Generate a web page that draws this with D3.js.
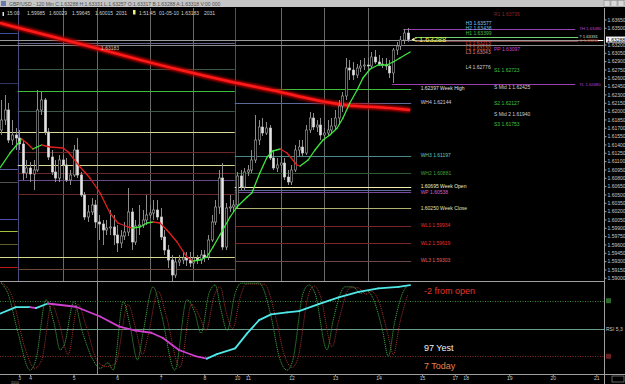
<!DOCTYPE html>
<html>
<head>
<meta charset="utf-8">
<script src="https://cdn.jsdelivr.net/npm/d3@7"></script>
<style>
  body { margin: 0; background: #000; }
  svg { display: block; font-family: "Liberation Sans", Arial, sans-serif; }
</style>
</head>
<body>
<svg id="chart" width="625" height="384"></svg>
<script>
// GBP/USD 120 min, one bar per slot, slot 0 = left edge
var opens = [1.61660,1.61840,1.62020,1.61480,1.61570,1.61516,1.61408,1.60886,1.60976,1.60868,
  1.60940,1.62020,1.62200,1.61624,1.61174,1.60904,1.60796,1.61120,1.61030,1.60760,
  1.60850,1.61300,1.60850,1.60490,1.60094,1.60184,1.60310,1.60004,1.59968,1.59860,
  1.59896,1.59914,1.59770,1.59626,1.59752,1.59824,1.60184,1.59644,1.59932,1.59950,
  1.60040,1.60130,1.60166,1.60220,1.60094,1.59734,1.59500,1.59320,1.59050,1.59284,
  1.59320,1.59356,1.59320,1.59266,1.59356,1.59320,1.59410,1.59374,1.59680,1.60004,
  1.60274,1.60796,1.59554,1.60256,1.60274,1.60310,1.60832,1.60634,1.60904,1.60940,
  1.61120,1.61480,1.61714,1.61606,1.61696,1.61156,1.60976,1.61030,1.61066,1.60814,
  1.60724,1.60940,1.61300,1.61354,1.61246,1.61660,1.61876,1.61714,1.61750,1.61570,
  1.61606,1.61660,1.61732,1.61876,1.62092,1.62272,1.62776,1.62740,1.62650,1.62776,
  1.62812,1.62830,1.62812,1.62974,1.62884,1.62848,1.62830,1.62812,1.62686,1.63100,
  1.63172,1.63280,1.63406];
var highs = [1.62200,1.62290,1.62146,1.61840,1.61696,1.61660,1.61480,1.61120,1.61084,1.61120,
  1.62380,1.62344,1.62236,1.61696,1.61300,1.61120,1.61210,1.61210,1.61156,1.60940,
  1.61390,1.61516,1.60904,1.60544,1.60310,1.60436,1.60400,1.60130,1.60040,1.60040,
  1.60220,1.60130,1.59950,1.59860,1.60004,1.60616,1.60256,1.60040,1.60310,1.60220,
  1.60490,1.60310,1.60400,1.60400,1.60256,1.59860,1.59590,1.59410,1.59356,1.59410,
  1.59464,1.59464,1.59464,1.59464,1.59410,1.59500,1.59500,1.59770,1.60130,1.60400,
  1.60940,1.61066,1.60346,1.60490,1.60400,1.60904,1.60940,1.60976,1.61030,1.61300,
  1.61930,1.61840,1.61876,1.61804,1.61750,1.61300,1.61156,1.61210,1.61156,1.60940,
  1.61030,1.61390,1.61480,1.61480,1.61750,1.61984,1.61966,1.61840,1.61876,1.61696,
  1.61840,1.61876,1.62020,1.62200,1.62344,1.62956,1.62920,1.62884,1.62848,1.62920,
  1.62956,1.62956,1.63064,1.63100,1.63010,1.62956,1.62956,1.62920,1.63136,1.63244,
  1.63352,1.63478,1.63496];
var lows = [1.61570,1.61750,1.61426,1.61390,1.61300,1.61300,1.60760,1.60796,1.60724,1.60580,
  1.60904,1.61930,1.61570,1.61120,1.60850,1.60724,1.60724,1.60796,1.60724,1.60670,
  1.60814,1.60796,1.60454,1.60040,1.60004,1.60130,1.59896,1.59680,1.59590,1.59770,
  1.59770,1.59590,1.59464,1.59536,1.59680,1.59752,1.59500,1.59590,1.59770,1.59896,
  1.59950,1.60076,1.60040,1.60040,1.59680,1.59410,1.59176,1.58942,1.58996,1.59212,
  1.59248,1.59212,1.59194,1.59176,1.59248,1.59248,1.59284,1.59320,1.59644,1.59950,
  1.60148,1.59500,1.59500,1.60184,1.60184,1.60256,1.60580,1.60580,1.60832,1.60886,
  1.61066,1.61390,1.61552,1.61570,1.61120,1.60940,1.60904,1.60904,1.60760,1.60670,
  1.60670,1.60904,1.61192,1.61192,1.61210,1.61606,1.61660,1.61624,1.61480,1.61480,
  1.61552,1.61588,1.61660,1.61750,1.61984,1.62200,1.62560,1.62560,1.62596,1.62704,
  1.62740,1.62740,1.62776,1.62848,1.62812,1.62776,1.62740,1.62596,1.62506,1.63010,
  1.63100,1.63208,1.63244];
var closes = [1.61840,1.62020,1.61480,1.61570,1.61516,1.61408,1.60886,1.60976,1.60868,1.60940,
  1.62020,1.62200,1.61624,1.61174,1.60904,1.60796,1.61120,1.61030,1.60760,1.60850,
  1.61300,1.60850,1.60490,1.60094,1.60184,1.60310,1.60004,1.59968,1.59860,1.59896,
  1.59914,1.59770,1.59626,1.59752,1.59824,1.60184,1.59644,1.59932,1.59950,1.60040,
  1.60130,1.60166,1.60220,1.60094,1.59734,1.59500,1.59320,1.59050,1.59284,1.59320,
  1.59356,1.59320,1.59266,1.59356,1.59320,1.59410,1.59374,1.59680,1.60004,1.60274,
  1.60796,1.59554,1.60256,1.60274,1.60310,1.60832,1.60634,1.60904,1.60940,1.61120,
  1.61480,1.61714,1.61606,1.61696,1.61156,1.60976,1.61030,1.61066,1.60814,1.60724,
  1.60940,1.61300,1.61354,1.61246,1.61660,1.61876,1.61714,1.61750,1.61570,1.61606,
  1.61660,1.61732,1.61876,1.62092,1.62272,1.62776,1.62740,1.62650,1.62776,1.62812,
  1.62830,1.62812,1.62974,1.62884,1.62848,1.62830,1.62812,1.62686,1.63100,1.63172,
  1.63280,1.63406,1.63288];

// fast moving average (green up / red down)
var maSlots = [-0.3,2.5,5.7,7.1,8.8,9.9,11.2,13.5,17.1,18.5,21.8,24.5,27.3,30.0,32.2,35.0,36.1,38.3,40.2,41.9,
  43.8,45.7,48.5,51.2,52.9,54.8,56.7,58.4,60.3,63.1,65.0,67.8,69.1,71.3,73.3,74.9,76.9,78.8,81.5,82.4,
  84.6,86.5,88.7,90.6,92.6,94.2,96.1,98.1,99.7,101.7,103.9,106.3,108.0,109.9,112.7];
var maPrices = [1.60976,1.61246,1.61498,1.61426,1.61318,1.61354,1.61390,1.61354,1.61336,1.61264,
  1.60994,1.60796,1.60526,1.60166,1.59986,1.59914,1.59896,1.59914,1.59986,1.60004,
  1.59986,1.59860,1.59644,1.59374,1.59302,1.59320,1.59374,1.59554,1.59770,1.60094,
  1.60274,1.60454,1.60526,1.60886,1.61174,1.61282,1.61318,1.61246,1.61030,1.61012,
  1.61120,1.61300,1.61480,1.61570,1.61696,1.61876,1.62146,1.62380,1.62596,1.62758,
  1.62830,1.62830,1.62884,1.62956,1.63064];

// slow moving average (thick red)
var slowSlots = [-0.3,13.5,27.3,38.3,49.3,63.1,74.9,86.0,95.3,104.4,112.7];
var slowPrices = [1.63586,1.63352,1.63118,1.62920,1.62740,1.62524,1.62380,1.62200,1.62092,1.62074,1.62020];

// levels
var prevWeekLevels = [1.63406,1.62511,1.61629,1.60958,1.60729,1.60058,1.59842,1.59608,1.59379,1.59194];
var weekOneLevels = [1.63221,1.62753,1.62362,1.62002,1.61629,1.61259,1.61035,1.60886,1.60760,1.60508,1.59379,1.59158];
var weekTwoNames = ['WH4 1.62144','WH3 1.61197','WH2 1.60881','1.60695 Week Open','','WP 1.60538','1.60250 Week Close','WL1 1.59934','WL2 1.59619','WL3 1.59303'];
var weekTwoLevels = [1.62144,1.61197,1.60881,1.60639,1.60580,1.60538,1.60250,1.59934,1.59619,1.59303];
var weekHigh = 1.62397;
var bidPrice = 1.63288;
var userLine = 1.63183;
var dayLineNames = ['YH 1.63480','? 1.63331','C 1.63260','YL 1.62480'];
var dayLineLevels = [1.63480,1.63331,1.63260,1.62480];
var pivotNamesA = ['H3 1.63577','H2 1.63438','H1 1.63399','L1 1.63213','L2 1.63130','L3 1.63043','L4 1.62776'];
var pivotLevelsA = [1.63577,1.63488,1.63399,1.63213,1.63130,1.63043,1.62776];
var pivotNamesB = ['R1 1.63736','PP 1.63097','S1 1.62723','S Mid 1  1.62425','S2 1.62127','S Mid 2  1.61940','S3 1.61753'];
var pivotLevelsB = [1.63736,1.63097,1.62723,1.62425,1.62127,1.61940,1.61753];

// oscillators (slot, value)
var stochK = [[0,99],[1.9,88],[4.7,45],[8,5],[9.6,16],[12.4,81],[14.6,56],[16.3,27],[17.4,32],[20.1,79],
  [22.3,48],[25.1,18],[27.3,7],[29.5,13],[30.9,5],[33.7,79],[35.4,56],[37.6,16],[39.1,45],[41.9,95],
  [44.1,67],[47.9,5],[51.2,81],[53.4,67],[55.1,45],[57.3,88],[59,97],[60.6,70],[62.3,48],[64.5,88],
  [66.1,99],[71.1,99],[74.4,63],[76.6,20],[78.8,5],[80.4,16],[83.2,88],[84.8,97],[86.5,88],[89.8,27],
  [91.5,59],[94.8,95],[96.9,95],[99.1,88],[100.7,91],[102.3,84],[105.1,48],[106.7,20],[108.4,56],[110.6,88],[112.2,97]];
var stochD = [[0,100],[3,85],[6.5,30],[9.3,7],[11.2,16],[14,76],[16,56],[18.5,22],[21.2,76],[23.5,52],
  [26.5,15],[29,9],[31.5,12],[35,76],[37,52],[39,22],[40.5,42],[43.3,90],[45.5,64],[49.3,8],
  [52.5,76],[54.8,62],[56.5,48],[58.7,85],[60.4,95],[62,68],[63.8,50],[66,85],[67.5,98],[72.5,98],
  [75.8,60],[78,22],[80.2,8],[81.8,18],[84.6,85],[86.2,96],[88,85],[91.2,30],[93,58],[96.2,94],
  [98.3,94],[100.5,87],[102.1,90],[103.8,82],[106.5,45],[108.1,22],[109.8,55],[112,86]];
var rsiSlots = [-0.3,4.1,8.0,9.6,12.9,20.6,27.3,32.6,37.1,41.4,44.6,49.0,53.5,56.7,59.5,64.5,67.8,71.1,74.4,78.8,
  82.1,87.5,93.0,98.5,104.0,109.5,112.7];
var rsiValues = [66,73,73,72,77,73.5,63,52,47.6,45.4,39.7,26.8,20.3,17.4,22.4,28.6,44.8,59,65.3,67.4,
  68.8,76.4,83.6,89.6,93.3,95,96.9];
var stochLevels = [80, 50, 20];

// ticks (1.63350 sits under the bid box)
var priceTicks = [1.63650,1.63500,1.63200,1.63050,1.62900,1.62750,1.62600,1.62450,1.62300,
  1.62150,1.62000,1.61850,1.61700,1.61550,1.61400,1.61250,1.61100,1.60950,1.60800,1.60650,1.60500,
  1.60350,1.60200,1.60050,1.59900,1.59750,1.59600,1.59450,1.59300,1.59150,1.59000];
var dayLabels = ['3','4','5','6','7','8','10','11','12','13','14','15','17','18','19','20','21'];
var daySlots = [5,8,20,32,44,56,65,68,80,92,104,116,125,128,140,152,164];
var sepSlots = [4.6, 64.4];
var vLineSlots = [17, 26.5, 41, 53, 77, 89, 101];
var infoTexts = ['15:00','1.59985','1.60029','1.59645','1.60015','2031','1:51:45','01-05-10','1.63183','2031'];
var infoX = [7,27,49,72,95,116,139,159,181,204];

// ---- scales ----
var svg = d3.select('#chart');
var x = d3.scaleLinear().domain([0, 166]).range([1, 603.6]);
var y = d3.scaleLinear().domain([1.64, 1.5896]).range([0, 280]);
var yInd = d3.scaleLinear().domain([0, 100]).range([374.8, 282.2]);
var px = function(v) { return Math.round(v) + 0.5; };

svg.append('rect').attr('width', 625).attr('height', 384).attr('fill', '#000');

var defs = svg.append('defs');
defs.append('clipPath').attr('id', 'clipMain').append('rect')
  .attr('x', 0).attr('y', 8).attr('width', 604).attr('height', 273);
defs.append('clipPath').attr('id', 'clipInd').append('rect')
  .attr('x', 0).attr('y', 282).attr('width', 604).attr('height', 92);
var glow = defs.append('filter').attr('id', 'glow').attr('x', '-5%').attr('y', '-50%').attr('width', '110%').attr('height', '200%');
glow.append('feGaussianBlur').attr('stdDeviation', 1);

var main = svg.append('g').attr('clip-path', 'url(#clipMain)');
var ind = svg.append('g').attr('clip-path', 'url(#clipInd)');

// vertical lines
main.selectAll(null).data(vLineSlots).enter().append('line')
  .attr('x1', d => px(x(d))).attr('x2', d => px(x(d)))
  .attr('y1', 8).attr('y2', 281).attr('stroke', '#6a6a6a');
ind.append('line').attr('x1', px(x(26.5))).attr('x2', px(x(26.5)))
  .attr('y1', 282).attr('y2', 374).attr('stroke', '#8a8a8a');
main.selectAll(null).data(sepSlots).enter().append('line')
  .attr('x1', d => px(x(d))).attr('x2', d => px(x(d)))
  .attr('y1', 8).attr('y2', 281).attr('stroke', '#4c4c7c');

// horizontal levels
function levels(prices, s0, s1, colors, w) {
  main.selectAll(null).data(prices).enter().append('line')
    .attr('x1', x(s0)).attr('x2', x(s1))
    .attr('y1', d => px(y(d))).attr('y2', d => px(y(d)))
    .attr('stroke', (d, i) => colors[i]).attr('stroke-width', w || 1);
}
levels(prevWeekLevels, -1, 4.6,
  ['#3c4c9c','#33336a','#d8d890','#5a5aa0','#505050','#5050b0','#a0c040','#606030','#d8d890','#c01818']);
levels(weekOneLevels, 4.6, 64.4,
  ['#66668a','#3c5a4a','#3cc03c','#3c5a4a','#d8d890','#6a2a2a','#d8d890','#6a2a2a','#6a4a8a','#6a2a2a','#d8d890','#6a4a3a']);
levels(weekTwoLevels, 64.4, 113,
  ['#5a6a9a','#4a8a8a','#2f5a2f','#f0f0b0','#5a6a9a','#7a4a9a','#b0b070','#7a2626','#7a2626','#6a4848']);
levels([weekHigh], 74.7, 113, ['#3cc03c']);
levels([bidPrice, userLine], -1, 166, ['#9a9a9a', '#8a8a8a']);
main.append('line').attr('x1', x(110.8)).attr('x2', x(158.2))
  .attr('y1', px(y(dayLineLevels[0]))).attr('y2', px(y(dayLineLevels[0]))).attr('stroke', '#9a40b0');
main.append('line').attr('x1', x(114)).attr('x2', x(159))
  .attr('y1', px(y(dayLineLevels[1]))).attr('y2', px(y(dayLineLevels[1]))).attr('stroke', '#70d070');
main.append('line').attr('x1', x(114)).attr('x2', x(159))
  .attr('y1', px(y(dayLineLevels[2]))).attr('y2', px(y(dayLineLevels[2]))).attr('stroke', '#804040');
main.append('line').attr('x1', x(107.7)).attr('x2', x(158.2))
  .attr('y1', px(y(dayLineLevels[3]))).attr('y2', px(y(dayLineLevels[3]))).attr('stroke', '#9a40b0');

// slow MA
var slowLine = d3.line().x((d, i) => x(slowSlots[i])).y(d => y(d)).curve(d3.curveBasis);
main.append('path').datum(slowPrices).attr('d', slowLine)
  .attr('fill', 'none').attr('stroke', '#b00000').attr('stroke-width', 5.5).attr('filter', 'url(#glow)');
main.append('path').datum(slowPrices).attr('d', slowLine)
  .attr('fill', 'none').attr('stroke', '#ff1a1a').attr('stroke-width', 2.5);

// candles
var bars = main.selectAll('g.bar').data(closes).enter().append('g').attr('class', 'bar');
bars.append('line')
  .attr('x1', (d, i) => px(x(i))).attr('x2', (d, i) => px(x(i)))
  .attr('y1', (d, i) => y(highs[i])).attr('y2', (d, i) => y(lows[i]))
  .attr('stroke', '#8c8c8c');
bars.append('rect')
  .attr('x', (d, i) => px(x(i)) - 1.2).attr('width', 2.4)
  .attr('y', (d, i) => y(Math.max(opens[i], d)))
  .attr('height', (d, i) => Math.max(0.8, Math.abs(y(opens[i]) - y(d))))
  .attr('fill', (d, i) => d >= opens[i] ? '#000' : '#e4e4e4')
  .attr('stroke', (d, i) => d >= opens[i] ? '#a8a8a8' : '#c8c8c8')
  .attr('stroke-width', 0.6);

// fast MA, coloured by direction
for (var i = 0; i < maPrices.length - 1; i++) {
  main.append('line')
    .attr('x1', x(maSlots[i])).attr('y1', y(maPrices[i]))
    .attr('x2', x(maSlots[i + 1])).attr('y2', y(maPrices[i + 1]))
    .attr('stroke', maPrices[i + 1] >= maPrices[i] ? '#3ee83e' : '#e02020')
    .attr('stroke-width', 1.3).attr('stroke-linecap', 'round');
}

// labels
var lab = svg.append('g').attr('font-size', 5).attr('dominant-baseline', 'middle');
lab.append('text').attr('x', 101).attr('y', y(userLine) + 3).attr('fill', '#c0c0c0').text('1.63183');
lab.append('text').attr('x', x(115.6)).attr('y', y(weekHigh)).attr('fill', '#e0e0e0').text('1.62397 Week High');
var weekColors = ['#c8c8e8','#60c8c8','#40a040','#f0f0c0','','#d060d0','#e0e0b0','#e03030','#e03030','#e06060'];
lab.selectAll(null).data(weekTwoLevels).enter().append('text')
  .attr('x', x(115.6)).attr('y', d => y(d)).attr('fill', (d, i) => weekColors[i])
  .text((d, i) => weekTwoNames[i]);
var dayColors = ['#c040d0','#d0e0d0','#e05030','#c040d0'];
lab.selectAll(null).data(dayLineLevels).enter().append('text')
  .attr('x', x(159.3)).attr('y', d => y(d)).attr('fill', (d, i) => dayColors[i])
  .attr('font-size', 4.2).text((d, i) => dayLineNames[i]);
var colA = ['#80c8ff','#60c0e0','#40c040','#e04040','#e06030','#e08080','#d0d0d0'];
lab.selectAll(null).data(pivotLevelsA).enter().append('text')
  .attr('x', x(128)).attr('y', d => y(d)).attr('fill', (d, i) => colA[i])
  .text((d, i) => pivotNamesA[i]);
var colB = ['#902020','#d040d0','#40c040','#d0d0d0','#40c040','#d0d0d0','#40c040'];
lab.selectAll(null).data(pivotLevelsB).enter().append('text')
  .attr('x', x(135.8)).attr('y', d => y(d)).attr('fill', (d, i) => colB[i])
  .text((d, i) => pivotNamesB[i]);
// current price marker
svg.append('path').attr('d', 'M' + (x(112.5) + 2) + ',' + y(bidPrice) + 'l3,-1.8v3.6z').attr('fill', '#fff');
svg.append('text').attr('x', x(113.4)).attr('y', y(bidPrice) + 2.6)
  .attr('font-size', 7.5).attr('fill', '#f0f040').text('< ' + bidPrice.toFixed(5));

// indicator window
ind.selectAll(null).data(stochLevels).enter().append('line')
  .attr('x1', 0).attr('x2', 604)
  .attr('y1', d => px(yInd(d))).attr('y2', d => px(yInd(d)))
  .attr('stroke', (d, i) => ['#3a8a3a', '#6a9a8a', '#8a2a2a'][i])
  .attr('stroke-dasharray', (d, i) => i === 1 ? null : '1,1.5');
var osc = d3.line().x(d => x(d[0])).y(d => yInd(d[1])).curve(d3.curveMonotoneX);
ind.append('path').datum(stochD).attr('d', osc).attr('fill', 'none')
  .attr('stroke', '#a83030').attr('stroke-dasharray', '1,1');
ind.append('path').datum(stochK).attr('d', osc).attr('fill', 'none')
  .attr('stroke', '#3c9a3c').attr('stroke-dasharray', '1.2,0.8');
for (var j = 0; j < rsiValues.length - 1; j++) {
  ind.append('line')
    .attr('x1', x(rsiSlots[j])).attr('y1', yInd(rsiValues[j]))
    .attr('x2', x(rsiSlots[j + 1])).attr('y2', yInd(rsiValues[j + 1]))
    .attr('stroke', rsiValues[j + 1] >= rsiValues[j] ? '#50e8e8' : '#d040d0')
    .attr('stroke-width', 1.8).attr('stroke-linecap', 'round');
}
svg.append('text').attr('x', 424).attr('y', 294).attr('font-size', 9).attr('fill', '#e03a2a').text('-2 from open');
svg.append('text').attr('x', 424).attr('y', 351).attr('font-size', 9).attr('fill', '#f0f0f0').text('97 Yest');
svg.append('text').attr('x', 424).attr('y', 369).attr('font-size', 9).attr('fill', '#e8804a').text('7 Today');

// frame lines
svg.append('line').attr('x1', 0).attr('x2', 604).attr('y1', 281.5).attr('y2', 281.5).attr('stroke', '#a0a0a0');
svg.append('line').attr('x1', 0).attr('x2', 625).attr('y1', 374.5).attr('y2', 374.5).attr('stroke', '#a0a0a0');
svg.append('line').attr('x1', 604.5).attr('x2', 604.5).attr('y1', 8).attr('y2', 384).attr('stroke', '#a0a0a0');

// price axis
var yAxis = svg.append('g').attr('transform', 'translate(604.5,0)')
  .call(d3.axisRight(y).tickValues(priceTicks).tickSize(2).tickPadding(1).tickFormat(d3.format('.5f')));
yAxis.select('.domain').remove();
yAxis.selectAll('line').attr('stroke', '#a0a0a0');
yAxis.selectAll('text').attr('font-size', 5).attr('fill', '#c8c8c8').attr('font-family', '"Liberation Sans", Arial');
svg.append('rect').attr('x', 606).attr('y', y(bidPrice) - 3).attr('width', 19).attr('height', 6).attr('fill', '#f4f4f4');
svg.append('text').attr('x', 607).attr('y', y(bidPrice) + 2).attr('font-size', 5).attr('fill', '#000').text(bidPrice.toFixed(5));
svg.append('path').attr('d', 'M598,' + px(y(bidPrice)) + 'h5').attr('stroke', '#fff');

// indicator axis labels
svg.append('rect').attr('x', 606).attr('y', yInd(80) - 2.5).attr('width', 5).attr('height', 5).attr('fill', '#2a6a2a');
svg.append('rect').attr('x', 606).attr('y', yInd(20) - 2.5).attr('width', 5).attr('height', 5).attr('fill', '#6a2020');
svg.append('text').attr('x', 606).attr('y', yInd(50) + 2).attr('font-size', 5).attr('fill', '#c8c8c8').text('RSI 5,3');

// time axis
var xAxis = svg.append('g').attr('transform', 'translate(0,374.5)')
  .call(d3.axisBottom(x).tickValues(daySlots).tickSize(2).tickPadding(0).tickFormat((d, i) => dayLabels[i]));
xAxis.select('.domain').remove();
xAxis.selectAll('line').attr('stroke', '#a0a0a0');
xAxis.selectAll('text').attr('font-size', 5).attr('fill', '#c8c8c8').attr('font-family', '"Liberation Sans", Arial');
svg.append('text').attr('x', 11).attr('y', 383.8).attr('font-size', 3.6).attr('fill', '#a0a0a0').text('2010');
svg.append('rect').attr('x', 612).attr('y', 376).attr('width', 12).attr('height', 6).attr('fill', 'none').attr('stroke', '#a0a0a0').attr('stroke-width', 0.6);

// title bar and info line
svg.append('rect').attr('width', 625).attr('height', 7).attr('fill', '#c6c6c6');
svg.append('rect').attr('x', 1).attr('y', 1).attr('width', 5).attr('height', 5).attr('fill', '#6a7ab0');
svg.append('text').attr('x', 9).attr('y', 5.5).attr('font-size', 5).attr('fill', '#505050')
  .text('GBP/USD - 120 Min C:1.63288 H:1.63331 L:1.63257 O:1.63317 B:1.63288 A:1.63318 V:00 000');
svg.selectAll('rect.btn').data([604, 611, 618]).enter().append('rect').attr('class', 'btn')
  .attr('x', d => d).attr('y', 0.5).attr('width', 6).attr('height', 6).attr('fill', '#d8d8d8').attr('stroke', '#808080').attr('stroke-width', 0.5);
svg.selectAll('text.info').data(infoTexts).enter().append('text').attr('class', 'info')
  .attr('x', (d, i) => infoX[i]).attr('y', 14.5).attr('font-size', 5).attr('fill', '#d0d0d0').text(d => d);
svg.append('rect').attr('x', 133).attr('y', 10).attr('width', 2.5).attr('height', 4.5).attr('fill', '#f0f080');
svg.append('rect').attr('x', 2.5).attr('y', 12).attr('width', 1.5).attr('height', 4).attr('fill', '#e0e0e0');
</script>
</body>
</html>
